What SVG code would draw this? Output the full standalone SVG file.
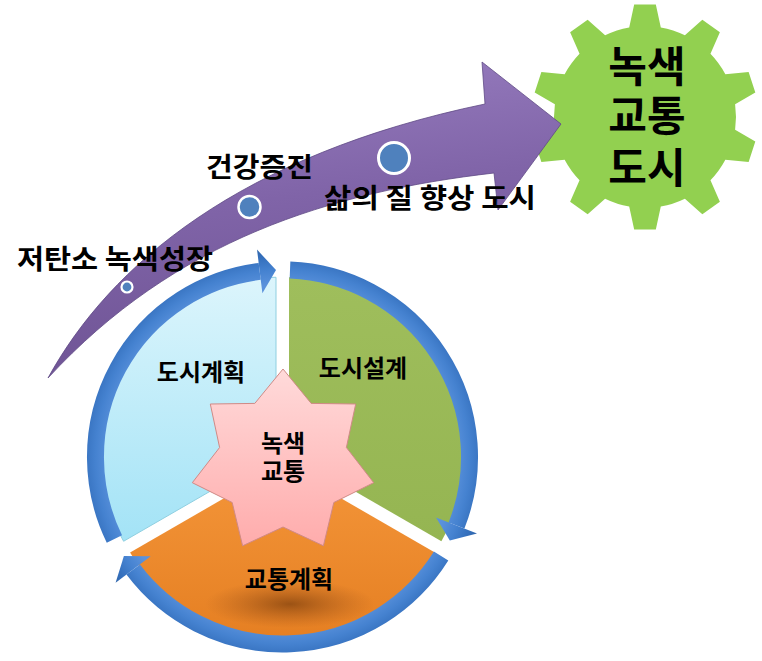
<svg xmlns="http://www.w3.org/2000/svg" width="762" height="661" viewBox="0 0 762 661">
<style>
.t{font-family:"Noto Sans CJK KR","Liberation Sans",sans-serif;font-weight:bold;fill:#000}
.dot{fill:#4f81bd;stroke:#fff}
.ring{fill:none;stroke:url(#ringG);stroke-width:17}
.head{fill:url(#ringG)}
</style>
<defs>
<linearGradient id="purG" x1="0" y1="0" x2="0.2" y2="1">
<stop offset="0" stop-color="#9a80c2"/><stop offset="0.5" stop-color="#8064a8"/><stop offset="1" stop-color="#6e5394"/>
</linearGradient>
<radialGradient id="ringG" gradientUnits="userSpaceOnUse" cx="282.5" cy="457" r="215">
<stop offset="0.8" stop-color="#5b92dc"/><stop offset="0.87" stop-color="#4582d0"/><stop offset="0.93" stop-color="#3570bd"/><stop offset="1" stop-color="#2c5f9f"/>
</radialGradient>
<linearGradient id="blueG" x1="0" y1="0" x2="0" y2="1">
<stop offset="0" stop-color="#dcf5fc"/><stop offset="1" stop-color="#a3e3f6"/>
</linearGradient>
<linearGradient id="greenG" x1="0" y1="0" x2="0" y2="1">
<stop offset="0" stop-color="#9fbe5c"/><stop offset="1" stop-color="#95b552"/>
</linearGradient>
<linearGradient id="orangeG" x1="0" y1="0" x2="0" y2="1">
<stop offset="0" stop-color="#f4963a"/><stop offset="1" stop-color="#e57f22"/>
</linearGradient>
<radialGradient id="shadowG">
<stop offset="0" stop-color="#7a3d0c" stop-opacity="0.7"/><stop offset="1" stop-color="#a0521a" stop-opacity="0"/>
</radialGradient>
<linearGradient id="starG" x1="0" y1="0" x2="0" y2="1">
<stop offset="0" stop-color="#ffdada"/><stop offset="1" stop-color="#ffacac"/>
</linearGradient>
</defs>

<g id="gear">
<path fill="#92d050" d="M629.20,27.38 L634.17,4.52 L655.83,4.52 L660.80,27.38 A91 91 0 0 1 684.89,35.21 L702.35,19.64 L719.88,32.37 L710.46,53.79 A91 91 0 0 1 725.35,74.28 L748.63,71.94 L755.32,92.54 L735.11,104.34 A91 91 0 0 1 735.11,129.66 L755.32,141.46 L748.63,162.06 L725.35,159.72 A91 91 0 0 1 710.46,180.21 L719.88,201.63 L702.35,214.36 L684.89,198.79 A91 91 0 0 1 660.80,206.62 L655.83,229.48 L634.17,229.48 L629.20,206.62 A91 91 0 0 1 605.11,198.79 L587.65,214.36 L570.12,201.63 L579.54,180.21 A91 91 0 0 1 564.65,159.72 L541.37,162.06 L534.68,141.46 L554.89,129.66 A91 91 0 0 1 554.89,104.34 L534.68,92.54 L541.37,71.94 L564.65,74.28 A91 91 0 0 1 579.54,53.79 L570.12,32.37 L587.65,19.64 L605.11,35.21 A91 91 0 0 1 629.20,27.38 Z"/>
<text class="t" x="647" y="82" font-size="42" text-anchor="middle">녹색</text>
<text class="t" x="647" y="131" font-size="42" text-anchor="middle">교통</text>
<text class="t" x="647" y="183" font-size="42" text-anchor="middle">도시</text>
</g>

<g id="growth-arrow">
<path fill="url(#purG)" stroke="#5f4a85" stroke-width="0.8" d="M48,378 C110,265 240,155 485,104 L482,62 L561,124 L498,210 L494,173 C330,192 175,240 48,378 Z"/>
<circle class="dot" cx="127" cy="287" r="5.5" stroke-width="2.2"/>
<circle class="dot" cx="249.5" cy="207" r="11" stroke-width="2.5"/>
<circle class="dot" cx="394" cy="158" r="15.5" stroke-width="3"/>
</g>

<g id="labels">
<text class="t" x="17" y="269" font-size="27" textLength="196" lengthAdjust="spacingAndGlyphs">저탄소 녹색성장</text>
<text class="t" x="206" y="177" font-size="27" textLength="107" lengthAdjust="spacingAndGlyphs">건강증진</text>
<text class="t" x="324" y="208" font-size="27" textLength="212" lengthAdjust="spacingAndGlyphs">삶의 질 향상 도시</text>
</g>

<g id="sector-plan">
<path fill="url(#blueG)" stroke="#8fcfe0" stroke-width="1" d="M276,453.25 L123.6,541.25 A176 176 0 0 1 276,277.25 Z"/>
<text class="t" x="201" y="381" font-size="24" text-anchor="middle">도시계획</text>
</g>
<g id="sector-design">
<path fill="url(#greenG)" d="M289,453.25 L289,277.25 A176 176 0 0 1 441.4,541.25 Z"/>
<text class="t" x="363" y="377" font-size="24" text-anchor="middle">도시설계</text>
</g>
<g id="sector-transport">
<path fill="url(#orangeG)" d="M282.5,464.5 L434.9,552.5 A176 176 0 0 1 130.1,552.5 Z"/>
<ellipse cx="290" cy="604" rx="85" ry="24" fill="url(#shadowG)"/>
<text class="t" x="289" y="588" font-size="24" text-anchor="middle">교통계획</text>
</g>

<g id="connectors">
<path class="ring" d="M114.4,539 A187 187 0 0 1 259.7,271.4"/>
<polygon class="head" points="257,249.6 276,270.1 262.4,293.2"/>
<path class="ring" d="M290,270.1 A187 187 0 0 1 456.5,525.5"/>
<polygon class="head" points="477,533.6 449.8,540.4 436,517.5"/>
<path class="ring" d="M441.1,556.1 A187 187 0 0 1 133.2,569.5"/>
<polygon class="head" points="150.7,556.3 123.9,556.1 115.6,582.8"/>
</g>

<g id="star">
<polygon fill="url(#starG)" stroke="#d08a86" stroke-width="1" points="283,369 311.2,403.4 355.7,404 346.4,447.5 373.7,482.7 333.8,502.5 323.4,545.8 283,527 242.6,545.8 232.2,502.5 192.3,482.7 219.6,447.5 210.3,404 254.8,403.4"/>
<text class="t" x="283" y="452" font-size="24" text-anchor="middle">녹색</text>
<text class="t" x="283" y="480" font-size="24" text-anchor="middle">교통</text>
</g>
</svg>
